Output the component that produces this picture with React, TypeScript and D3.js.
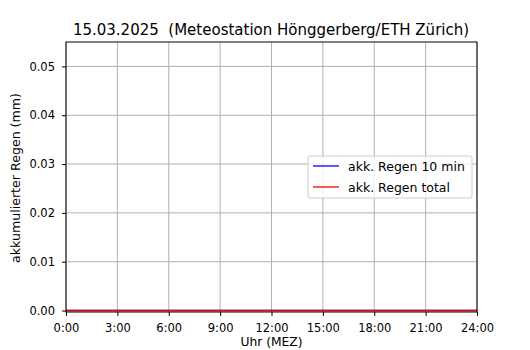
import React, { useEffect, useRef } from 'react';
import * as d3 from 'd3';

// Rain data for the day (hours since midnight, mm)
const TIMES = [0, 6, 12, 18, 24];
const RAIN_10MIN = [0, 0, 0, 0, 0];
const RAIN_TOTAL = [0, 0, 0, 0, 0];

const X_TICKS = [0, 3, 6, 9, 12, 15, 18, 21, 24];
const X_TICK_LABELS = ['0:00', '3:00', '6:00', '9:00', '12:00', '15:00', '18:00', '21:00', '24:00'];
const Y_TICKS = [0, 0.01, 0.02, 0.03, 0.04, 0.05];

const SERIES = [
  { label: 'akk. Regen 10 min', color: '#0000ff', values: RAIN_10MIN },
  { label: 'akk. Regen total', color: '#ff0000', values: RAIN_TOTAL }
];

const TITLE = '15.03.2025  (Meteostation Hönggerberg/ETH Zürich)';
const FONT = '"DejaVu Sans", sans-serif';

export default function App() {
  const ref = useRef<SVGSVGElement>(null);

  useEffect(() => {
    const width = 530, height = 350;
    const margin = { top: 42, right: 53, bottom: 38, left: 66 };
    const w = width - margin.left - margin.right;
    const h = height - margin.top - margin.bottom;

    const root = d3.select(ref.current);
    root.selectAll('*').remove();
    root.append('rect').attr('width', width).attr('height', height).attr('fill', '#fff');

    const svg = root.append('g').attr('transform', `translate(${margin.left},${margin.top})`);

    const x = d3.scaleLinear().domain([0, 24]).range([0, w]);
    const y = d3.scaleLinear().domain([-0.0003, 0.055]).range([h, 0]);

    // grid
    svg.append('g').selectAll('line').data(X_TICKS).enter().append('line')
      .attr('x1', d => x(d)).attr('x2', d => x(d)).attr('y1', 0).attr('y2', h)
      .attr('stroke', '#b0b0b0').attr('stroke-width', 1);
    svg.append('g').selectAll('line').data(Y_TICKS).enter().append('line')
      .attr('y1', d => y(d)).attr('y2', d => y(d)).attr('x1', 0).attr('x2', w)
      .attr('stroke', '#b0b0b0').attr('stroke-width', 1);

    // series lines
    const line = d3.line<number>().x((d, i) => x(TIMES[i])).y(d => y(d));
    SERIES.forEach(s => {
      svg.append('path').datum(s.values).attr('d', line)
        .attr('fill', 'none').attr('stroke', s.color).attr('stroke-width', 1.5);
    });

    // axes
    const xAxis = svg.append('g').attr('transform', `translate(0,${h})`)
      .call(d3.axisBottom(x).tickValues(X_TICKS).tickFormat((d, i) => X_TICK_LABELS[i]).tickSize(4).tickPadding(8));
    const yAxis = svg.append('g')
      .call(d3.axisLeft(y).tickValues(Y_TICKS).tickFormat(d3.format('.2f')).tickSize(4).tickPadding(7));
    [xAxis, yAxis].forEach(a => {
      a.select('.domain').remove();
      a.selectAll('text').style('font-family', FONT).style('font-size', '11.5px').attr('fill', '#000');
      a.selectAll('line').attr('stroke', '#000').attr('stroke-width', 1);
    });

    // frame
    svg.append('rect').attr('width', w).attr('height', h)
      .attr('fill', 'none').attr('stroke', '#000').attr('stroke-width', 1);

    // labels
    svg.append('text').attr('x', w / 2 - 0.5).attr('y', -7).attr('text-anchor', 'middle')
      .style('font-family', FONT).style('font-size', '15px').style('white-space', 'pre').text(TITLE);
    svg.append('text').attr('x', w / 2).attr('y', h + 34).attr('text-anchor', 'middle')
      .style('font-family', FONT).style('font-size', '12.3px').text('Uhr (MEZ)');
    svg.append('text').attr('transform', 'rotate(-90)').attr('x', -(178 - margin.top)).attr('y', -46.5)
      .attr('text-anchor', 'middle')
      .style('font-family', FONT).style('font-size', '12.6px').text('akkumulierter Regen (mm)');

    // legend
    const lg = svg.append('g').attr('transform', `translate(${308 - margin.left},${156 - margin.top})`);
    lg.append('rect').attr('width', 164).attr('height', 42).attr('rx', 2)
      .attr('fill', 'rgba(255,255,255,0.8)').attr('stroke', '#cccccc').attr('stroke-width', 1);
    SERIES.forEach((s, i) => {
      const yy = 10 + i * 21;
      lg.append('line').attr('x1', 5).attr('x2', 31).attr('y1', yy).attr('y2', yy)
        .attr('stroke', s.color).attr('stroke-width', 1.3);
      lg.append('text').attr('x', 40).attr('y', yy + 4.5)
        .style('font-family', FONT).style('font-size', '12.5px').text(s.label);
    });
  }, []);

  return (
    <svg ref={ref} width={530} height={350}
      style={{ display: 'block', position: 'absolute', left: 0, top: 0 }} />
  );
}
